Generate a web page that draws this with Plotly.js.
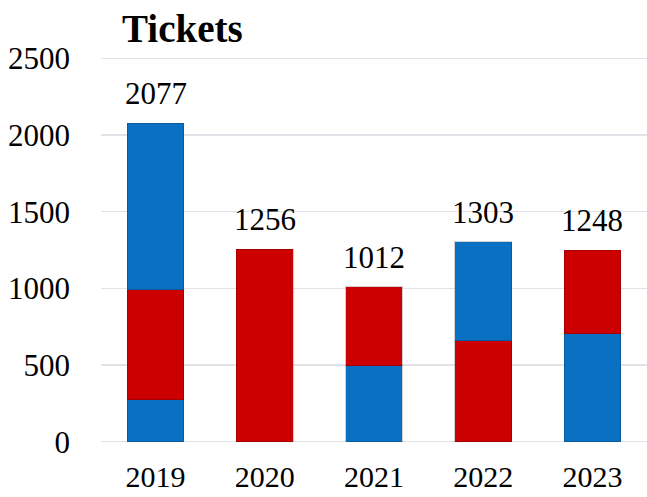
<!DOCTYPE html>
<html>
<head>
<meta charset="utf-8">
<script src="https://cdn.plot.ly/plotly-3.0.1.min.js"></script>
<style>html,body{margin:0;padding:0;background:#fff;}#chart{width:647px;height:497px;}</style>
</head>
<body>
<div id="chart"></div>
<script>
var years = ['2019', '2020', '2021', '2022', '2023'];
var totals = [2077, 1256, 1012, 1303, 1248];
var BLUE = '#0a70c2';
var RED = '#cc0000';
// stacked segments, bottom to top
var segBottom = [273, 1256, 495, 657, 703];
var segBottomColors = [BLUE, RED, BLUE, RED, BLUE];
var segMiddle = [717, null, 517, 646, 545];
var segMiddleColors = [RED, RED, RED, BLUE, RED];
var segTop = [1087, null, null, null, null];
var segTopColors = [BLUE, BLUE, BLUE, BLUE, BLUE];
var yTicks = [0, 500, 1000, 1500, 2000, 2500];

var FONT = 'Liberation Serif, DejaVu Serif, serif';

function seg(vals, cols) {
  return {
    type: 'bar', x: years, y: vals,
    marker: {color: cols, line: {color: 'rgba(0,0,0,0.18)', width: 1}},
    hoverinfo: 'none', showlegend: false
  };
}

var data = [seg(segBottom, segBottomColors), seg(segMiddle, segMiddleColors), seg(segTop, segTopColors)];

var annotations = years.map(function (yr, i) {
  return {x: i, y: totals[i], xref: 'x', yref: 'y', text: String(totals[i]), showarrow: false,
    xanchor: 'center', yanchor: 'bottom', yshift: 10,
    font: {family: FONT, size: 31, color: '#000'}};
});

var layout = {
  width: 647, height: 497,
  margin: {l: 101, r: 0, t: 56, b: 53},
  paper_bgcolor: '#fff', plot_bgcolor: '#fff',
  barmode: 'stack', bargap: 0.48,
  title: {text: '<b>Tickets</b>', x: 122 / 647, xanchor: 'left', xref: 'container',
    y: 1 - 28 / 497, yanchor: 'middle', yref: 'container',
    font: {family: FONT, size: 39, color: '#000'}},
  xaxis: {type: 'category', range: [-0.5, 4.5], showgrid: false, zeroline: false,
    showline: false, ticks: '', ticklabelstandoff: 12,
    tickfont: {family: FONT, size: 30, color: '#000'}},
  yaxis: {range: [-15, 2515], tickvals: yTicks, ticktext: yTicks.map(String),
    showgrid: true, gridcolor: '#e2e2e8', gridwidth: 1.5, zeroline: false, showline: false,
    ticks: '', ticklabelstandoff: 30,
    tickfont: {family: FONT, size: 31, color: '#000'}},
  annotations: annotations
};

Plotly.newPlot('chart', data, layout, {staticPlot: true, displayModeBar: false});
</script>
</body>
</html>
